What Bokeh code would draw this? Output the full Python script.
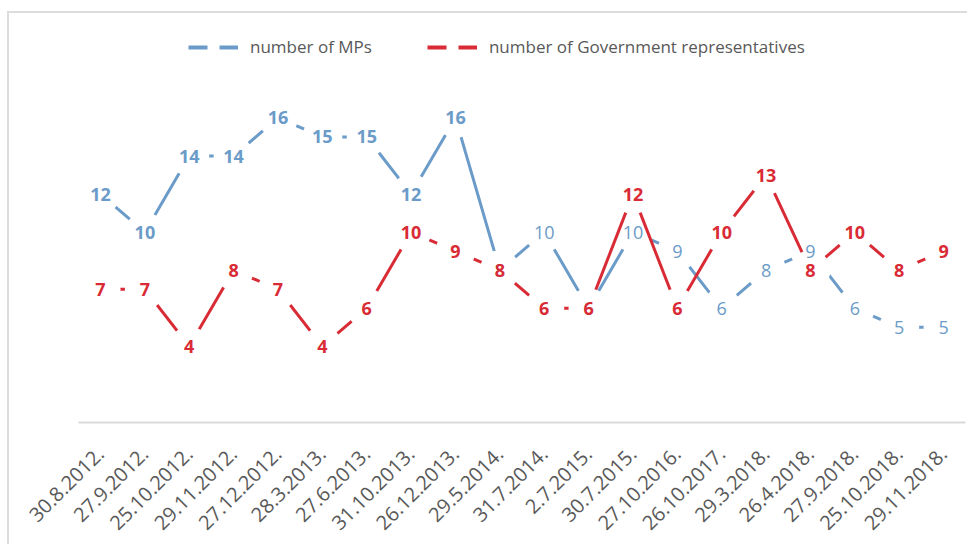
import math
from bokeh.plotting import figure
from bokeh.models import ColumnDataSource, Range1d, FixedTicker, Legend, LegendItem
from bokeh.core.properties import value
from bokeh.embed import file_html
from bokeh.resources import INLINE

dates = ["30.8.2012.", "27.9.2012.", "25.10.2012.", "29.11.2012.", "27.12.2012.",
         "28.3.2013.", "27.6.2013.", "31.10.2013.", "26.12.2013.", "29.5.2014.",
         "31.7.2014.", "2.7.2015.", "30.7.2015.", "27.10.2016.", "26.10.2017.",
         "29.3.2018.", "26.4.2018.", "27.9.2018.", "25.10.2018.", "29.11.2018."]
mps = [12, 10, 14, 14, 16, 15, 15, 12, 16, 8, 10, 6, 10, 9, 6, 8, 9, 6, 5, 5]
gov = [7, 7, 4, 8, 7, 4, 6, 10, 9, 8, 6, 6, 12, 6, 10, 13, 8, 10, 8, 9]

BLUE = "#6B9BC8"
RED = "#D92B35"
GRAY_TXT = "#595959"
FONT = "Open Sans"

xs = list(range(len(dates)))
src_m = ColumnDataSource(dict(x=xs, y=mps, t=[str(v) for v in mps],
                              st=["bold" if i < 9 else "normal" for i in xs]))
src_g = ColumnDataSource(dict(x=xs, y=gov, t=[str(v) for v in gov]))

p = figure(width=960, height=533, output_backend="svg", toolbar_location=None,
           x_range=Range1d(-0.496, 19.495), y_range=Range1d(0, 21.12),
           y_axis_location=None, min_border_left=69, min_border_right=4,
           min_border_top=7, min_border_bottom=124)
p.styles = {"border-top": "2px solid #DCDCDC", "border-left": "2px solid #DCDCDC",
            "margin-top": "11px", "margin-left": "7px"}
p.outline_line_color = None
p.xgrid.visible = False
p.ygrid.visible = False
p.background_fill_color = "white"
p.border_fill_color = "white"

# blue series: line + white markers
p.line("x", "y", source=src_m, line_color=BLUE, line_width=3)
p.scatter("x", "y", source=src_m, size=40, fill_color="white", line_color=None)
# red series
p.line("x", "y", source=src_g, line_color=RED, line_width=3)
p.scatter("x", "y", source=src_g, size=40, fill_color="white", line_color=None)
# labels
p.text("x", "y", text="t", source=src_m, text_align="center", text_baseline="middle",
       text_color=BLUE, text_font=value(FONT), text_font_size="18px",
       text_font_style="st")
p.text("x", "y", text="t", source=src_g, text_align="center", text_baseline="middle",
       text_color=RED, text_font=value(FONT), text_font_size="18px",
       text_font_style="bold")

# legend with dashed keys (dummy renderers, no visible data)
nan = float("nan")
lm = p.line([nan, nan], [nan, nan], line_color=BLUE, line_width=4, line_dash="19 12")
lg = p.line([nan, nan], [nan, nan], line_color=RED, line_width=4, line_dash="19 12")
leg = Legend(items=[LegendItem(label="number of MPs", renderers=[lm]),
                    LegendItem(label="number of Government representatives", renderers=[lg])],
             orientation="horizontal", location=(110, 364), padding=0, margin=0,
             spacing=55, glyph_width=50, glyph_height=20, label_standoff=12,
             label_text_font=FONT, label_text_font_size="17px",
             label_text_color=GRAY_TXT, border_line_color=None,
             background_fill_alpha=0)
p.add_layout(leg, "center")

ax = p.xaxis[0]
ax.ticker = FixedTicker(ticks=xs)
ax.major_label_overrides = {i: d for i, d in zip(xs, dates)}
ax.major_label_orientation = math.pi / 4
ax.major_label_text_font = FONT
ax.major_label_text_font_size = "20px"
ax.major_label_text_color = GRAY_TXT
ax.major_label_standoff = 22
ax.major_tick_line_color = None
ax.minor_tick_line_color = None
ax.axis_line_color = "#D9D9D9"
ax.axis_line_width = 2

open("out.html", "w").write(file_html(p, INLINE))
